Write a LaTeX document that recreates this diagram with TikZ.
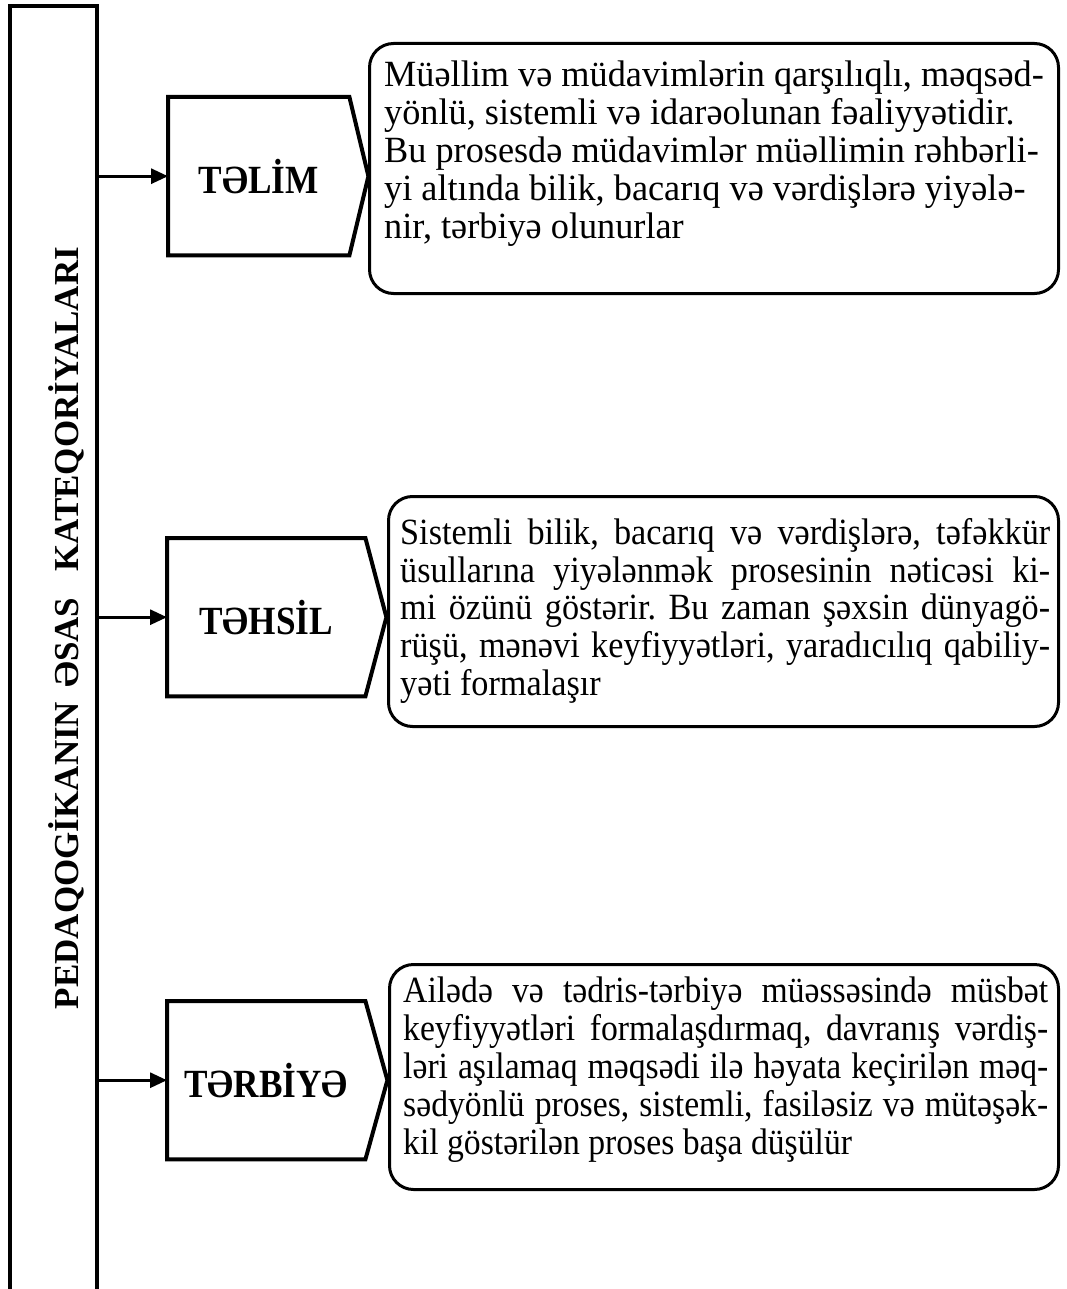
\documentclass[tikz,border=0pt]{standalone}
\usepackage{fontspec}
\setmainfont{Liberation Serif}
\newfontfamily\bodyfont[FakeStretch=0.98]{Liberation Serif}
\newfontfamily\bodyfontn[FakeStretch=0.925]{Liberation Serif}
\newfontfamily\bodyfontm[FakeStretch=0.91]{Liberation Serif}
\newfontfamily\headfont[FakeStretch=0.88]{Liberation Serif}
\usetikzlibrary{arrows.meta,calc}
\frenchspacing

\tikzset{
  bar/.style={line width=3.2pt},
  arr/.style={line width=3pt, -{Triangle[length=17pt,width=15pt]}},
  catbox/.style={minimum width=#1, minimum height=158pt, inner sep=0pt,
    font=\headfont\fontsize{40}{44}\selectfont\bfseries},
  penta/.style={line width=4pt, line join=miter},
  descbox/.style={draw, line width=3pt, rounded corners=24pt, inner sep=0pt},
  desctext/.style={inner sep=0pt, anchor=north west, font=\fontsize{37}{37.8}\selectfont},
  sidetitle/.style={rotate=90, inner sep=0pt, font=\fontsize{35}{40}\selectfont\bfseries}
}

\begin{document}
\begin{tikzpicture}[x=1pt, y=-1pt]
  \useasboundingbox (0,0) rectangle (1067,1289);

  % left bar
  \coordinate (barR) at (97,6);
  \draw[bar] (10,1295) |- (barR) -- (97,1295);
  \node[sidetitle] (side) at (66,628)
    {PEDAQOGİKANIN\hspace{14pt}ƏSAS\hspace{26pt}KATEQORİYALARI};

  % categories
  \node[catbox=181pt, anchor=north west] (t1) at (168,97) {TƏLİM};
  \node[catbox=198pt, anchor=north west] (t2) at (167,538) {TƏHSİL};
  \node[catbox=198pt, anchor=north west] (t3) at (167,1001) {TƏRBİYƏ};
  \foreach \t/\d in {t1/19, t2/21, t3/22} {
    \draw[penta] (\t.north west) -- (\t.north east) -- ($(\t.east)+(\d,0)$)
      -- (\t.south east) -- (\t.south west) -- cycle;
    \draw[arr] (barR |- \t.west) -- (\t.west);
  }

  % descriptions
  \node[descbox, minimum width=689pt, minimum height=250pt, anchor=north west] (d1) at (368,42) {};
  \node[desctext, align=left] (d1t) at ($(d1.north west)+(16,19)$)
    {\bodyfont Müəllim və müdavimlərin qarşılıqlı, məqsəd-\\
     \bodyfont yönlü, sistemli və idarəolunan fəaliyyətidir.\\
     \bodyfont Bu prosesdə müdavimlər müəllimin rəhbərli-\\
     \bodyfont yi altında bilik, bacarıq və vərdişlərə yiyələ-\\
     \bodyfont nir, tərbiyə olunurlar};

  \node[descbox, minimum width=670pt, minimum height=230pt, anchor=north west] (d2) at (387,495) {};
  \node[desctext, align=justify, text width=650pt] (d2t) at ($(d2.north west)+(13,23)$)
    {\tolerance=10000 \hyphenpenalty=10000 \bodyfontn
     Sistemli bilik, bacarıq və vərdişlərə, təfəkkür\linebreak
     üsullarına yiyələnmək prosesinin nəticəsi ki-\linebreak
     mi özünü göstərir. Bu zaman şəxsin dünyagö-\linebreak
     rüşü, mənəvi keyfiyyətləri, yaradıcılıq qabiliy-\linebreak
     yəti formalaşır};

  \node[descbox, minimum width=669pt, minimum height=225pt, anchor=north west] (d3) at (388,963) {};
  \node[desctext, align=justify, text width=645pt] (d3t) at ($(d3.north west)+(15,14)$)
    {\tolerance=10000 \hyphenpenalty=10000 \bodyfontm
     Ailədə və tədris-tərbiyə müəssəsində müsbət\linebreak
     keyfiyyətləri formalaşdırmaq, davranış vərdiş-\linebreak
     ləri aşılamaq məqsədi ilə həyata keçirilən məq-\linebreak
     sədyönlü proses, sistemli, fasiləsiz və mütəşək-\linebreak
     kil göstərilən proses başa düşülür};
\end{tikzpicture}
\end{document}
